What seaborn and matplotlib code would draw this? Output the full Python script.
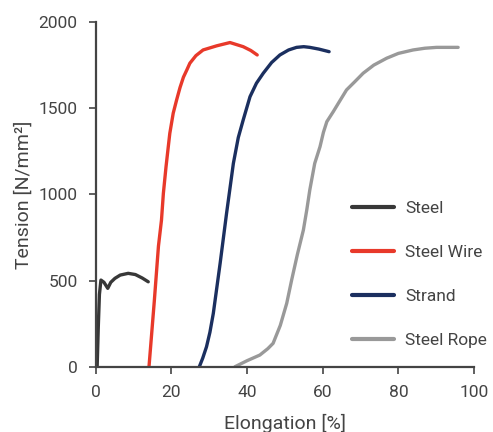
import numpy as np
import pandas as pd
import matplotlib
matplotlib.use("Agg")
import matplotlib.pyplot as plt
import seaborn as sns

# Data
steel_x = [0.4, 0.7, 1.0, 1.4, 2.2, 3.2, 4.0, 5.1, 6.5, 8.6, 10.5, 12.3, 13.9]
steel_y = [0, 232, 420, 503, 490, 455, 490, 513, 532, 542, 535, 515, 493]

wire_x = [14.1, 15.5, 16.6, 17.4, 17.9, 18.6, 19.2, 19.6, 20.5, 21.4, 22.3, 23.2, 24.1, 24.9, 26.5, 28.4, 32.0, 35.5, 39.0, 41.0, 42.7]
wire_y = [0, 380, 700, 851, 1006, 1160, 1277, 1354, 1471, 1548, 1620, 1680, 1722, 1761, 1805, 1838, 1862, 1881, 1857, 1835, 1809]

strand_x = [27.4, 28.3, 29.3, 30.2, 31.1, 32.9, 34.6, 36.4, 37.7, 39.0, 40.8, 42.5, 44.3, 46.5, 48.7, 51.0, 53.1, 55.0, 56.6, 59.0, 61.7]
strand_y = [0, 50, 116, 200, 310, 600, 890, 1180, 1330, 1432, 1567, 1645, 1703, 1765, 1809, 1838, 1853, 1857, 1853, 1843, 1828]

rope_x = [36.8, 40.0, 43.4, 45.5, 46.9, 48.8, 50.5, 51.8, 53.3, 54.9, 55.8, 56.6, 57.9, 59.3, 60.2, 61.1, 62.8, 64.6, 66.3, 68.5, 70.7, 73.5, 76.9, 80.0, 83.9, 87.0, 90.1, 95.8]
rope_y = [0, 35, 68, 105, 136, 240, 368, 503, 650, 793, 910, 1026, 1180, 1277, 1360, 1422, 1480, 1545, 1606, 1654, 1703, 1750, 1790, 1818, 1838, 1848, 1853, 1853]

labels = ["Steel", "Steel Wire", "Strand", "Steel Rope"]
colors = ["#383838", "#e8392a", "#1b2f5f", "#999999"]

xticks = [0, 20, 40, 60, 80, 100]
yticks = [0, 500, 1000, 1500, 2000]

frames = []
for lab, xs, ys in zip(labels, [steel_x, wire_x, strand_x, rope_x],
                       [steel_y, wire_y, strand_y, rope_y]):
    frames.append(pd.DataFrame({"Elongation": xs, "Tension": ys, "Type": lab}))
df = pd.concat(frames, ignore_index=True)

sns.set_theme(style="ticks")
plt.rcParams['font.family'] = ['Roboto', 'DejaVu Sans']
text_color = "#444444"

fig = plt.figure(figsize=(4.93, 4.32), dpi=100)
ax = fig.add_axes([0.194, 0.151, 0.7675, 0.798])

sns.lineplot(data=df, x="Elongation", y="Tension", hue="Type",
             hue_order=labels, palette=colors, sort=False,
             estimator=None, units="Type", linewidth=2.4, ax=ax)

ax.set_xlim(0, 100)
ax.set_ylim(0, 2000)
ax.set_xticks(xticks)
ax.set_yticks(yticks)
ax.set_xlabel("Elongation [%]", fontsize=14, color=text_color, labelpad=10)
ax.set_ylabel("Tension [N/mm²]", fontsize=14, color=text_color, labelpad=4)
ax.tick_params(axis="both", labelsize=12.5, colors=text_color, length=5, width=1.2,
               direction="out")
ax.tick_params(axis="x", pad=8)
ax.tick_params(axis="y", pad=8)
for side in ["top", "right"]:
    ax.spines[side].set_visible(False)
for side in ["left", "bottom"]:
    ax.spines[side].set_color("#444444")
    ax.spines[side].set_linewidth(1.6)

leg = ax.legend(frameon=False, loc="upper left", bbox_to_anchor=(0.678, 0.48),
                fontsize=12.5, handlelength=2.4, labelspacing=1.65,
                handletextpad=0.65, borderaxespad=0, borderpad=0)
for t in leg.get_texts():
    t.set_color(text_color)
for h in leg.get_lines():
    h.set_linewidth(3)

fig.savefig("out.png", dpi=100)
